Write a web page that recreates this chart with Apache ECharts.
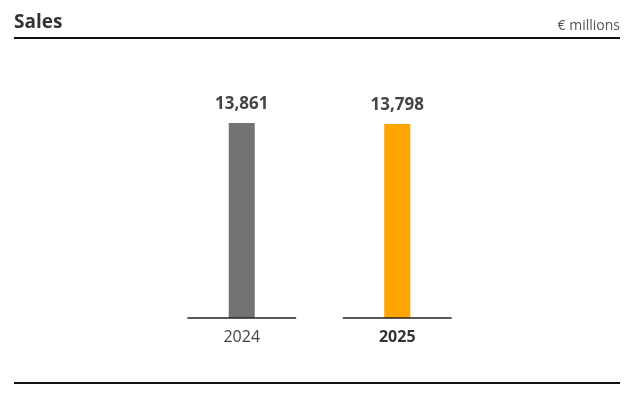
<!DOCTYPE html>
<html>
<head>
<meta charset="utf-8">
<script src="https://cdn.jsdelivr.net/npm/echarts@6/dist/echarts.min.js"></script>
<style>
html,body{margin:0;padding:0;background:#fff;}
#chart{width:634px;height:398px;}
</style>
</head>
<body>
<div id="chart"></div>
<script>
var categories = ['2024', '2025'];
var sales = [13861, 13798];
var barColors = ['#737373', '#FFA500'];
var titleText = 'Sales';
var unitText = '€ millions';

var FONT = '"Open Sans", "Noto Sans", sans-serif';
var chart = echarts.init(document.getElementById('chart'));

chart.setOption({
  animation: false,
  backgroundColor: '#fff',
  title: [
    { text: titleText, left: 9, top: 8, textStyle: { fontFamily: FONT, fontSize: 19, fontWeight: 'bold', color: '#333' } },
    { text: unitText, right: 9, top: 14, textStyle: { fontFamily: FONT, fontSize: 14, fontWeight: 'normal', color: '#555' } }
  ],
  graphic: [
    { type: 'line', shape: { x1: 14, y1: 38, x2: 620, y2: 38 }, style: { stroke: '#111', lineWidth: 2 } },
    { type: 'line', shape: { x1: 14, y1: 383, x2: 620, y2: 383 }, style: { stroke: '#111', lineWidth: 2 } }
  ],
  grid: { left: 164, right: 159, top: 93, bottom: 80 },
  xAxis: {
    type: 'category',
    data: categories,
    axisLine: { show: false },
    axisTick: { show: false },
    axisLabel: {
      margin: 11,
      fontFamily: FONT,
      fontSize: 16,
      color: '#444',
      formatter: function (v, i) { return i === categories.length - 1 ? '{b|' + v + '}' : v; },
      rich: { b: { fontFamily: FONT, fontSize: 16, fontWeight: 'bold', color: '#333' } }
    }
  },
  yAxis: {
    type: 'value', min: 0, max: 16000,
    show: false, splitLine: { show: false }
  },
  series: [
    {
      type: 'bar',
      barWidth: 26,
      data: sales.map(function (v, i) { return { value: v, itemStyle: { color: barColors[i] } }; }),
      label: {
        show: true, position: 'top', distance: 10,
        fontFamily: FONT, fontSize: 17, fontWeight: 'bold', color: '#444',
        formatter: function (p) { return p.value.toLocaleString('en-US'); }
      },
      z: 2
    },
    {
      type: 'custom',
      data: categories.map(function (c, i) { return [i, 0]; }),
      renderItem: function (params, api) {
        var pt = api.coord([api.value(0), 0]);
        var half = api.size([1, 0])[0] * 0.35;
        return {
          type: 'line',
          shape: { x1: pt[0] - half, y1: pt[1], x2: pt[0] + half, y2: pt[1] },
          style: { stroke: '#222', lineWidth: 1.5 }
        };
      },
      z: 3
    }
  ]
});
</script>
</body>
</html>
